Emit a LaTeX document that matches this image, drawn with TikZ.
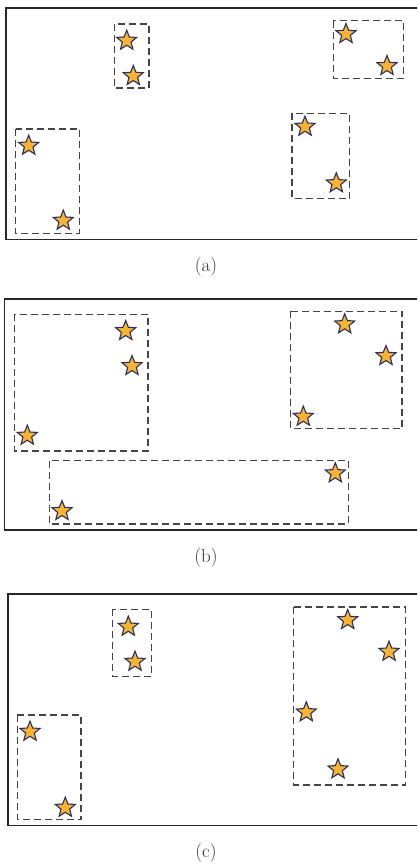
\documentclass[tikz,border=0pt]{standalone}
\usetikzlibrary{shapes.geometric}
\definecolor{starfill}{HTML}{F6B334}
\definecolor{stardraw}{HTML}{2C2F5E}
\definecolor{boxgray}{HTML}{444444}
\begin{document}
\begin{tikzpicture}[x=1pt,y=-1pt,
  frame/.style={draw=black!85,line width=1.2pt},
  group/.style={draw=boxgray,line width=1.3pt,dash pattern=on 7pt off 4pt},
  starnode/.style={star,star points=5,star point ratio=2.3,minimum size=21pt,inner sep=0pt,fill=starfill,draw=stardraw,line width=1.1pt},
  captext/.style={font=\fontsize{19}{22}\selectfont,text=black!80}]
\useasboundingbox (0,0) rectangle (417,866);
\clip (0,0) rectangle (417,866);
% ---------- panel (a)
\draw[frame] (6,8) rectangle (422,239.5);
\draw[group] (114.3,24) rectangle (149,88);
\draw[group] (15.7,129) rectangle (79.3,233.3);
\draw[group] (333.3,20.7) rectangle (403.3,78.3);
\draw[group] (292,113.3) rectangle (349.7,198.7);
\node[starnode] (a1) at (126.7,40.7) {};
\node[starnode] (a2) at (133.3,76) {};
\node[starnode] (a3) at (28.7,145.7) {};
\node[starnode] (a4) at (63.3,220.7) {};
\node[starnode] (a5) at (346,34) {};
\node[starnode] (a6) at (387,66) {};
\node[starnode] (a7) at (305,126.7) {};
\node[starnode] (a8) at (336.3,183.3) {};
\node[captext] (capa) at (206,267) {(a)};
% ---------- panel (b)
\draw[frame] (4.7,299) rectangle (422,530);
\draw[group] (14.7,314.3) rectangle (148,451);
\draw[group] (49.7,460.7) rectangle (348.3,524);
\draw[group] (290.3,311.3) rectangle (402,428.7);
\node[starnode] (b1) at (125.7,331) {};
\node[starnode] (b2) at (132,366) {};
\node[starnode] (b3) at (27.3,435.7) {};
\node[starnode] (b4) at (62,511) {};
\node[starnode] (b5) at (335.3,473.3) {};
\node[starnode] (b6) at (344.7,324.3) {};
\node[starnode] (b7) at (386,356) {};
\node[starnode] (b8) at (303.3,416.7) {};
\node[captext] (capb) at (206,558) {(b)};
% ---------- panel (c)
\draw[frame] (8,594) rectangle (422,825.7);
\draw[group] (112.7,609.3) rectangle (151.3,676.7);
\draw[group] (17.3,715) rectangle (81,819.7);
\draw[group] (293.7,607) rectangle (405.3,785);
\node[starnode] (c1) at (128.3,626.7) {};
\node[starnode] (c2) at (135,661.7) {};
\node[starnode] (c3) at (30,731.7) {};
\node[starnode] (c4) at (65.3,807.7) {};
\node[starnode] (c5) at (347.7,620) {};
\node[starnode] (c6) at (389,651.7) {};
\node[starnode] (c7) at (306.3,712.3) {};
\node[starnode] (c8) at (338,769.3) {};
\node[captext] (capc) at (206,853) {(c)};
\end{tikzpicture}
\end{document}
